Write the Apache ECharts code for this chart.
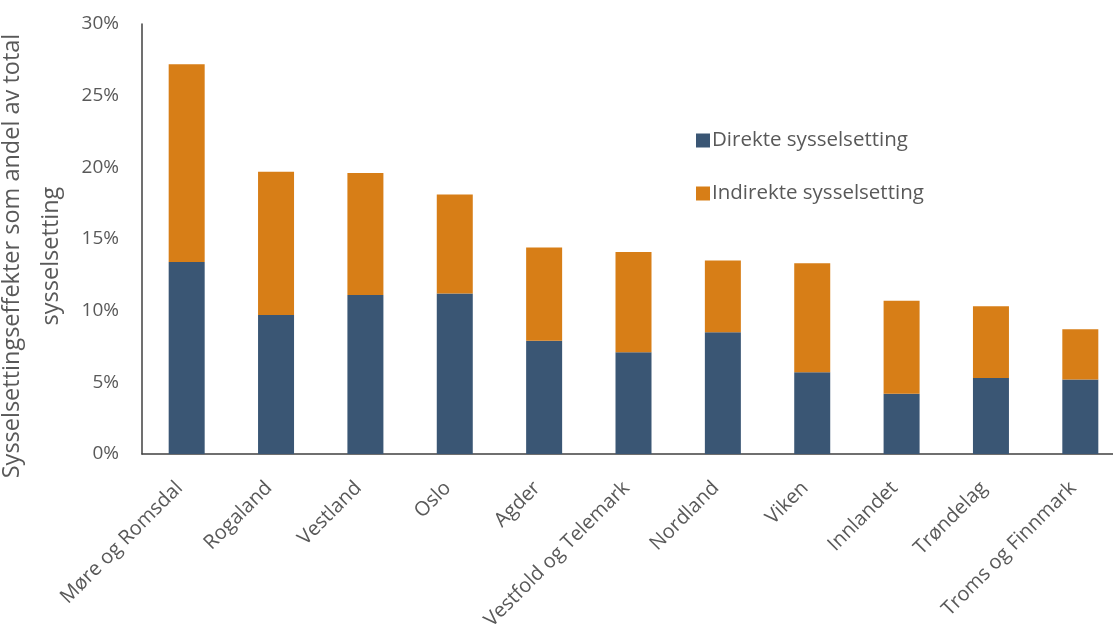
<!DOCTYPE html>
<html>
<head>
<meta charset="utf-8">
<script src="https://cdn.jsdelivr.net/npm/echarts@6/dist/echarts.min.js"></script>
<style>
html,body{margin:0;padding:0;background:#fff;}
#chart{width:1113px;height:632px;}
</style>
</head>
<body>
<div id="chart"></div>
<script>
const categories = ["Møre og Romsdal","Rogaland","Vestland","Oslo","Agder","Vestfold og Telemark","Nordland","Viken","Innlandet","Trøndelag","Troms og Finnmark"];
const direkte = [13.4, 9.7, 11.1, 11.2, 7.9, 7.1, 8.5, 5.7, 4.2, 5.3, 5.2];
const indirekte = [13.8, 10.0, 8.5, 6.9, 6.5, 7.0, 5.0, 7.6, 6.5, 5.0, 3.5];
const yTicks = [0, 5, 10, 15, 20, 25, 30];

const FONT = 'Open Sans';
const TXT = '#595959';
const chart = echarts.init(document.getElementById('chart'));
chart.setOption({
  animation: false,
  backgroundColor: '#fff',
  grid: { left: 142, top: 24, width: 983, height: 430, containLabel: false, outerBoundsMode: 'none' },
  legend: {
    orient: 'vertical',
    left: 691,
    top: 125,
    itemWidth: 14,
    itemHeight: 14,
    itemGap: 32,
    icon: 'rect',
    textStyle: { fontFamily: FONT, fontSize: 20.5, color: TXT, lineHeight: 20, padding: [0,0,0,-3] },
    data: ['Direkte sysselsetting', 'Indirekte sysselsetting']
  },
  xAxis: {
    type: 'category',
    data: categories,
    axisLine: { lineStyle: { color: '#404040', width: 1.5 } },
    axisTick: { show: false },
    axisLabel: { rotate: 45, interval: 0, margin: 38, verticalAlign: 'bottom', fontFamily: FONT, fontSize: 20, color: TXT }
  },
  yAxis: {
    type: 'value',
    min: yTicks[0],
    max: yTicks[yTicks.length - 1],
    interval: 5,
    name: 'Sysselsettingseffekter som andel av total\nsysselsetting',
    nameLocation: 'middle',
    nameGap: 54,
    nameTextStyle: { fontFamily: FONT, fontSize: 23.5, color: TXT, lineHeight: 39, padding: [0, 34, 0, 0] },
    axisLine: { show: true, lineStyle: { color: '#404040', width: 1.5 } },
    axisTick: { show: false },
    splitLine: { show: false },
    axisLabel: { formatter: '{value}%', margin: 23, fontFamily: FONT, fontSize: 19, color: TXT }
  },
  series: [
    { name: 'Direkte sysselsetting', type: 'bar', stack: 'a', data: direkte, barWidth: 36, itemStyle: { color: '#3A5674' } },
    { name: 'Indirekte sysselsetting', type: 'bar', stack: 'a', data: indirekte, barWidth: 36, itemStyle: { color: '#D77E17' } }
  ]
});
</script>
</body>
</html>
